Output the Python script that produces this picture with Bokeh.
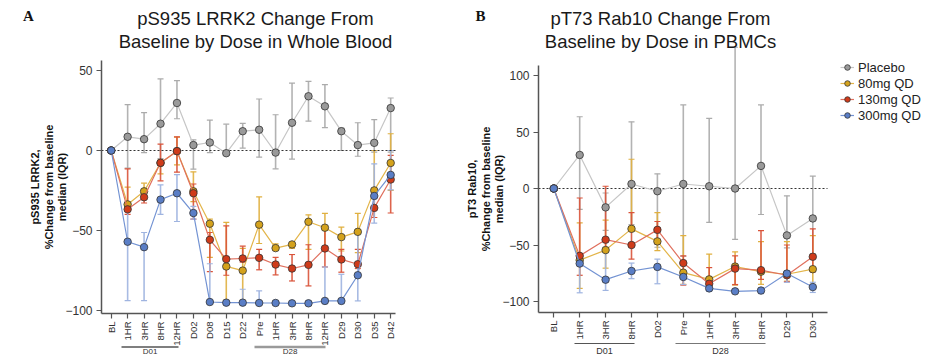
from math import pi
from bokeh.plotting import figure
from bokeh.layouts import row
from bokeh.models import (ColumnDataSource, Whisker, TeeHead, Label,
                          FixedTicker, Range1d, Legend, LegendItem)
from bokeh.embed import file_html
from bokeh.resources import INLINE

# ---------------- data ----------------
series_names = ["Placebo", "80mg QD", "130mg QD", "300mg QD"]

a_categories = ["BL", "1HR", "3HR", "8HR", "12HR", "D02", "D08", "D15", "D22",
                "Pre", "1HR", "3HR", "8HR", "12HR", "D29", "D30", "D35", "D42"]
a_placebo = [0, 8.6, 7.1, 16.8, 29.8, 3.4, 5.0, -1.7, 12.1, 13.0, -1.3, 17.4, 34.0, 27.7, 12.1, 3.4, 4.8, 26.6]
a_placebo_lo = [0, -11.1, -1.3, -5, 19.9, -11.7, -1.3, -2.5, 1.5, -4.2, -11.5, -5.4, 18.4, 14.3, 0, -3.6, -1, -1]
a_placebo_hi = [0, 28.7, 23.7, 44.9, 43.8, 6.7, 19.1, 16.5, 17.0, 32.3, 22.4, 42.3, 43.4, 41.3, 14, 17.4, 19.3, 32.9]
a_80 = [0, -33.8, -25.6, -7.8, -0.4, -25.6, -45.9, -72.7, -75.3, -46.5, -61.2, -58.9, -44.7, -48.4, -54.3, -51, -25, -7.8]
a_80_lo = [0, -38, -28, -14.6, -9, -32, -67, -94, -94, -58.3, -62.6, -61.4, -62, -62.2, -63, -64, -42, -25]
a_80_hi = [0, -22.9, -20.5, -6, 8.4, -13.4, -43, -45.1, -61.4, -29.1, -58.5, -57.7, -40.3, -39.4, -48, -39.4, 0, 10.5]
a_130 = [0, -36.9, -29.3, -7.7, -0.4, -26.8, -56, -68.1, -67.7, -67.3, -71.5, -74, -71.7, -61.4, -68.3, -71.3, -36, -18.2]
a_130_lo = [0, -40, -32.9, -19, -13.6, -43, -76, -78.2, -70, -74.8, -78, -81.8, -84.9, -73, -76.3, -74, -42, -39.2]
a_130_hi = [0, -11.5, -25, 4, 8.6, -21, -51.4, -47.2, -60, -62, -67, -65.2, -59.1, -48.4, -62, -62, -28, -3]
a_300 = [0, -57.2, -60.6, -30.8, -26.8, -39.2, -95, -95.4, -95.4, -95.6, -95.6, -95.8, -95.8, -94.3, -94.3, -78.2, -28.5, -15.3]
a_300_lo = [0, -94.1, -94.1, -40, -44.5, -43, -96, -96, -96, -96, -96, -96, -96, -96, -96, -94.3, -45.5, -24.7]
a_300_hi = [0, -38, -51.4, -21.6, -15.1, -35, -71, -95, -87, -88, -95, -95, -95, -73, -77.6, -51.4, -8.4, 0]

b_categories = ["BL", "1HR", "3HR", "8HR", "D02", "Pre", "1HR", "3HR", "8HR", "D29", "D30"]
b_placebo = [0, 29.7, -16.7, 4, -2.4, 4, 2, 0, 20, -41.5, -26.5]
b_placebo_lo = [0, -18.5, -37, -32, -52, -60, -30, -45, -23, -52.5, -58]
b_placebo_hi = [0, 63.5, -4, 59, 13, 74, 62, 125, 74, -6.5, 11]
b_80 = [0, -63.4, -54.5, -35.7, -46.8, -74.5, -80.4, -69.1, -73.6, -75.9, -71.4]
b_80_lo = [0, -88.4, -70.5, -38, -55, -84.8, -90, -85.5, -84.8, -82, -87.8]
b_80_hi = [0, -30.4, -28, 25.9, -21.4, -41.7, -58, -56, -47, -47, -41.7]
b_130 = [0, -59.6, -45.3, -50, -36.6, -66, -84.3, -70.9, -72.3, -76.8, -60.4]
b_130_lo = [0, -76.8, -55, -62.5, -49, -85.5, -88, -85, -80.4, -82.5, -73.8]
b_130_hi = [0, -8.4, 2, -21.4, -29.2, -59.6, -70, -59.6, -37.2, -50, -35.7]
b_300 = [0, -66.4, -80.7, -73, -69.4, -78.3, -88.4, -91, -90.3, -75.3, -87.2]
b_300_lo = [0, -92.3, -90.2, -79.8, -84.3, -85, -91, -93, -93, -83, -92]
b_300_hi = [0, -58, -52, -66, -62.5, -74, -86, -89, -88, -73, -83]

a_groups = ["D01", "D28"]
b_groups = ["D01", "D28"]

# ---------------- styles / layout ----------------
FONT = "Liberation Sans"
H = 354
marker_fill = ["#9a9a9a", "#d4a21c", "#cf3b1a", "#5a7ec6"]
line_col = ["#c6c6c6", "#e3b54a", "#e0705e", "#7393d3"]
whisk_col = ["#ababab", "#e0b040", "#d9533a", "#9fb4e0"]


def make_panel(categories, data, geom, yticks, title_lines, ylabel, letter,
               groups, legend=False):
    W = geom["width"]
    x0, dx, y0, dy = geom["x0"], geom["dx"], geom["y0"], geom["dy"]

    def X(px):
        return (px - x0) / dx

    def Y(py):
        return (y0 - py) / dy

    n = len(categories)
    p = figure(width=W, height=H, output_backend="svg", toolbar_location=None,
               title=None, x_range=Range1d(X(0), X(W)), y_range=Range1d(Y(H), Y(0)),
               min_border=0, min_border_left=0, min_border_right=0,
               min_border_top=0, min_border_bottom=0)
    p.outline_line_color = None
    p.xgrid.visible = False
    p.ygrid.visible = False
    p.background_fill_color = "white"
    p.border_fill_color = "white"

    fl, fr, ft, fb = geom["frame"]
    xb = (X(fl), X(fr))
    yb = (Y(fb), Y(ft))

    xs = list(range(n))
    p.xaxis.ticker = FixedTicker(ticks=xs)
    p.xaxis.major_label_overrides = {i: c for i, c in enumerate(categories)}
    p.xaxis.major_label_orientation = pi / 2
    p.xaxis.fixed_location = yb[0]
    p.xaxis.bounds = xb
    p.yaxis.ticker = FixedTicker(ticks=yticks)
    p.yaxis.major_label_overrides = {t: (str(t) if t >= 0 else "\u2212" + str(-t)) for t in yticks}
    p.yaxis.fixed_location = xb[0]
    p.yaxis.bounds = yb
    for ax in (p.xaxis, p.yaxis):
        ax.axis_line_color = "#555555"
        ax.axis_line_width = 1.5
        ax.major_tick_line_color = "#555555"
        ax.major_tick_line_width = 1.2
        ax.major_tick_out = 5
        ax.major_tick_in = 0
        ax.minor_tick_line_color = None
        ax.major_label_text_font = FONT
        ax.major_label_text_color = "#333333"
    p.xaxis.major_label_text_font_size = "9.5px"
    p.xaxis.major_label_standoff = 3
    p.yaxis.major_label_text_font_size = "12px"
    p.yaxis.major_label_standoff = 4
    p.yaxis.axis_label = ylabel
    p.yaxis.axis_label_text_font = FONT
    p.yaxis.axis_label_text_font_size = "11px"
    p.yaxis.axis_label_text_font_style = "bold"
    p.yaxis.axis_label_text_color = "#111111"
    p.yaxis.axis_label_text_line_height = 1.15
    p.yaxis.axis_label_standoff = -6

    # dotted zero reference line across the axis extent
    p.segment(x0=[xb[0]], x1=[xb[1]], y0=[0], y1=[0], line_color="#333333",
              line_dash="2 2", line_width=1.2)

    items = []
    for k, (med, lo, hi) in enumerate(data):
        src = ColumnDataSource(dict(x=xs, y=med, lower=lo, upper=hi))
        w = Whisker(source=src, base="x", upper="upper", lower="lower",
                    line_color=whisk_col[k], line_width=1.6, line_alpha=0.9,
                    upper_head=TeeHead(size=6, line_color=whisk_col[k], line_width=1.2),
                    lower_head=TeeHead(size=6, line_color=whisk_col[k], line_width=1.2),
                    level="underlay")
        p.add_layout(w)
        lr = p.line("x", "y", source=src, line_color=line_col[k], line_width=1.2)
        sr = p.scatter("x", "y", source=src, marker="circle", size=7.5,
                       fill_color=marker_fill[k], line_color="#333333", line_width=0.8)
        items.append(LegendItem(label=series_names[k], renderers=[lr, sr]))

    # title
    tcx = geom["title_x"]
    for line, ty in zip(title_lines, (18, 41)):
        p.add_layout(Label(x=X(tcx), y=Y(ty), text=line, text_font=FONT,
                           text_font_size="18.5px", text_color="#1a1a1a",
                           text_align="center", text_baseline="middle"))
    # panel letter
    lx, ly = geom["letter"]
    p.add_layout(Label(x=X(lx), y=Y(ly), text=letter, text_font="Liberation Serif",
                       text_font_style="bold", text_font_size="15px", text_color="#111111",
                       text_align="center", text_baseline="middle"))

    # group brackets below the tick labels
    gy_line, gy_text, gcols, gwid = geom["group_y"][0], geom["group_y"][1], geom["group_col"], geom["group_w"]
    for g, name in enumerate(groups):
        g0, g1 = geom["group_px"][g]
        p.segment(x0=[X(g0)], x1=[X(g1)], y0=[Y(gy_line)], y1=[Y(gy_line)],
                  line_color=gcols[g], line_width=gwid[g])
        p.add_layout(Label(x=X((g0 + g1) / 2), y=Y(gy_text), text=name,
                           text_font=FONT, text_font_size=geom["group_fs"], text_color="#333333",
                           text_align="center", text_baseline="middle"))

    if legend:
        lx0, ly_bottom = geom["legend"]
        lg = Legend(items=items, location=(lx0, H - ly_bottom))
        lg.label_text_font = FONT
        lg.label_text_font_size = "13px"
        lg.label_text_color = "#222222"
        lg.glyph_width = 14
        lg.glyph_height = 16
        lg.label_height = 16
        lg.label_standoff = 4
        lg.spacing = 0
        lg.padding = 0
        lg.margin = 0
        lg.border_line_alpha = 0
        lg.background_fill_alpha = 0
        p.add_layout(lg)
    return p


geom_a = dict(width=440, x0=110.7, dx=16.44, y0=150.0, dy=1.595,
              frame=(101, 395, 60, 313), title_x=255, letter=(28, 15),
              group_px=[(121, 178), (254, 325)], group_y=(346.5, 350.5),
              group_col=["#555555", "#9a9a9a"], group_w=[1.3, 2.5], group_fs="8px")
geom_b = dict(width=502, x0=113.3, dx=25.9, y0=188.0, dy=1.13,
              frame=(98, 387, 65, 312), title_x=220, letter=(40, 15),
              group_px=[(134, 194), (235, 325)], group_y=(343, 350),
              group_col=["#555555", "#777777"], group_w=[1.2, 1.2], group_fs="9px",
              legend=(400, 123))

pa = make_panel(a_categories,
                [(a_placebo, a_placebo_lo, a_placebo_hi), (a_80, a_80_lo, a_80_hi),
                 (a_130, a_130_lo, a_130_hi), (a_300, a_300_lo, a_300_hi)],
                geom_a, [-100, -50, 0, 50],
                ["pS935 LRRK2 Change From", "Baseline by Dose in Whole Blood"],
                "pS935 LRRK2,\n%Change from baseline\nmedian (IQR)", "A", a_groups)
pb = make_panel(b_categories,
                [(b_placebo, b_placebo_lo, b_placebo_hi), (b_80, b_80_lo, b_80_hi),
                 (b_130, b_130_lo, b_130_hi), (b_300, b_300_lo, b_300_hi)],
                geom_b, [-100, -50, 0, 50, 100],
                ["pT73 Rab10 Change From", "Baseline by Dose in PBMCs"],
                "pT3 Rab10,\n%Change from baseline\nmedian (IQR)", "B", b_groups,
                legend=True)

layout = row(pa, pb)
open("out.html", "w").write(file_html(layout, INLINE))
